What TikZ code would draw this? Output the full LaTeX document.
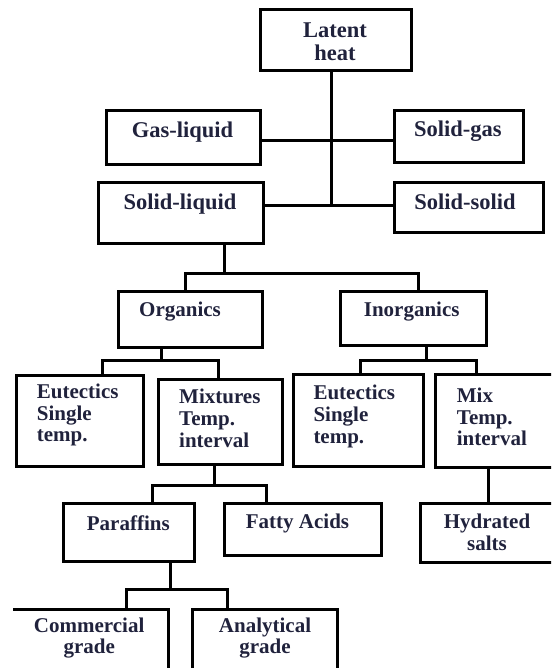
\documentclass[tikz,border=0pt]{standalone}
\usepackage{fontspec}
\setmainfont{Liberation Serif}
\definecolor{txtc}{RGB}{32,34,60}
\begin{document}
\begin{tikzpicture}[x=1pt,y=-1pt,
  box/.style={draw=black, line width=3pt, rectangle, inner sep=0pt, outer sep=0pt, anchor=north west},
  wire/.style={draw=black, line width=3pt, line cap=rect},
  txt/.style={text=txtc, inner sep=0pt, font=\bfseries\fontsize{21}{21.7}\selectfont},
  txtbig/.style={text=txtc, inner sep=0pt, font=\bfseries\fontsize{22.5}{22.7}\selectfont}]
\useasboundingbox (0,0) rectangle (551,668);
\clip (0,0) rectangle (551,668);
% boxes
\node[box, minimum width=151, minimum height=61.4] (lh) at (260.7,9.3) {};
\node[box, minimum width=154.7, minimum height=53.3] (gl) at (106,111) {};
\node[box, minimum width=129, minimum height=51.3] (sg) at (394,111) {};
\node[box, minimum width=164.7, minimum height=60.6] (sl) at (98.3,182.7) {};
\node[box, minimum width=149, minimum height=50] (ss) at (394,182.7) {};
\node[box, minimum width=144.4, minimum height=55.6] (org) at (118.3,291.7) {};
\node[box, minimum width=145.3, minimum height=53.3] (ino) at (340.7,291.7) {};
\node[box, minimum width=127.3, minimum height=91] (eo) at (16,375) {};
\node[box, minimum width=124.4, minimum height=85.5] (mx) at (158.3,379) {};
\node[box, minimum width=130, minimum height=92.4] (ei) at (293.3,374.3) {};
\node[box, minimum width=121, minimum height=93] (mi) at (435,374.3) {};
\node[box, minimum width=130.7, minimum height=58.4] (par) at (63.3,503.3) {};
\node[box, minimum width=157.7, minimum height=52.4] (fa) at (224,503.3) {};
\node[box, minimum width=135.3, minimum height=59.7] (hs) at (420.7,503) {};
\node[box, draw=none, minimum width=155.3, minimum height=80] (com) at (13,609) {};
\draw[line width=3pt] (com.north west) -- (com.north east) -- (com.south east);
\node[box, minimum width=144.6, minimum height=80] (ana) at (192.7,609) {};
% texts
\node[txtbig, align=center] (lh-t) at (335,41.5) {Latent\\heat};
\node[txtbig] (gl-t) at (182.5,131.7) {Gas-liquid};
\node[txtbig] (sg-t) at (457.8,131) {Solid-gas};
\node[txtbig] (sl-t) at (180,204) {Solid-liquid};
\node[txtbig] (ss-t) at (465,201.7) {Solid-solid};
\node[txt] (org-t) at (180,311.7) {Organics};
\node[txt] (ino-t) at (411.7,311.7) {Inorganics};
\node[txt, align=left, anchor=west] (eo-t) at (36.7,415) {Eutectics\\Single\\temp.};
\node[txt, align=left, anchor=west] (mx-t) at (179,418.3) {Mixtures\\Temp.\\interval};
\node[txt, align=left, anchor=west] (ei-t) at (313.3,416.5) {Eutectics\\Single\\temp.};
\node[txt, align=left, anchor=west] (mi-t) at (456.7,417) {Mix\\Temp.\\interval};
\node[txt] (par-t) at (128.3,523.3) {Paraffins};
\node[txt] (fa-t) at (297.5,523.3) {Fatty Acids};
\node[txt, align=center] (hs-t) at (487,532.5) {Hydrated\\salts};
\node[txt, align=center] (com-t) at (89.2,638) {Commercial\\grade};
\node[txt, align=center] (ana-t) at (265,638) {Analytical\\grade};
% junction coordinates
\coordinate (j0) at (331.7,205.7);
\coordinate (j1) at (331.7,140.7);
\coordinate (j2) at (224.3,273.3);
\coordinate (j3) at (161,360.7);
\coordinate (j4) at (426.7,360.7);
\coordinate (j5) at (214,485);
\coordinate (j6) at (170.7,589.3);
% connectors
\draw[wire] (lh.south -| j0) -- (j0);
\draw[wire] (gl.east |- j1) -- (sg.west |- j1);
\draw[wire] (sl.east |- j0) -- (ss.west |- j0);
\draw[wire] (sl.south -| j2) -- (j2);
\draw[wire] (org.north -| 185,0) -- (185,273.3) -- (418.3,273.3) -- (ino.north -| 418.3,0);
\draw[wire] (org.south -| j3) -- (j3);
\draw[wire] (eo.north -| 102,0) -- (102,360.7) -- (218,360.7) -- (mx.north -| 218,0);
\draw[wire] (ino.south -| j4) -- (j4);
\draw[wire] (ei.north -| 360,0) -- (360,360.7) -- (476.7,360.7) -- (mi.north -| 476.7,0);
\draw[wire] (mx.south -| j5) -- (j5);
\draw[wire] (par.north -| 152.3,0) -- (152.3,485) -- (266.7,485) -- (fa.north -| 266.7,0);
\draw[wire] (mi.south -| 488.5,0) -- (hs.north -| 488.5,0);
\draw[wire] (par.south -| j6) -- (j6);
\draw[wire] (com.north -| 126,0) -- (126,589.3) -- (227.3,589.3) -- (ana.north -| 227.3,0);
\end{tikzpicture}
\end{document}
